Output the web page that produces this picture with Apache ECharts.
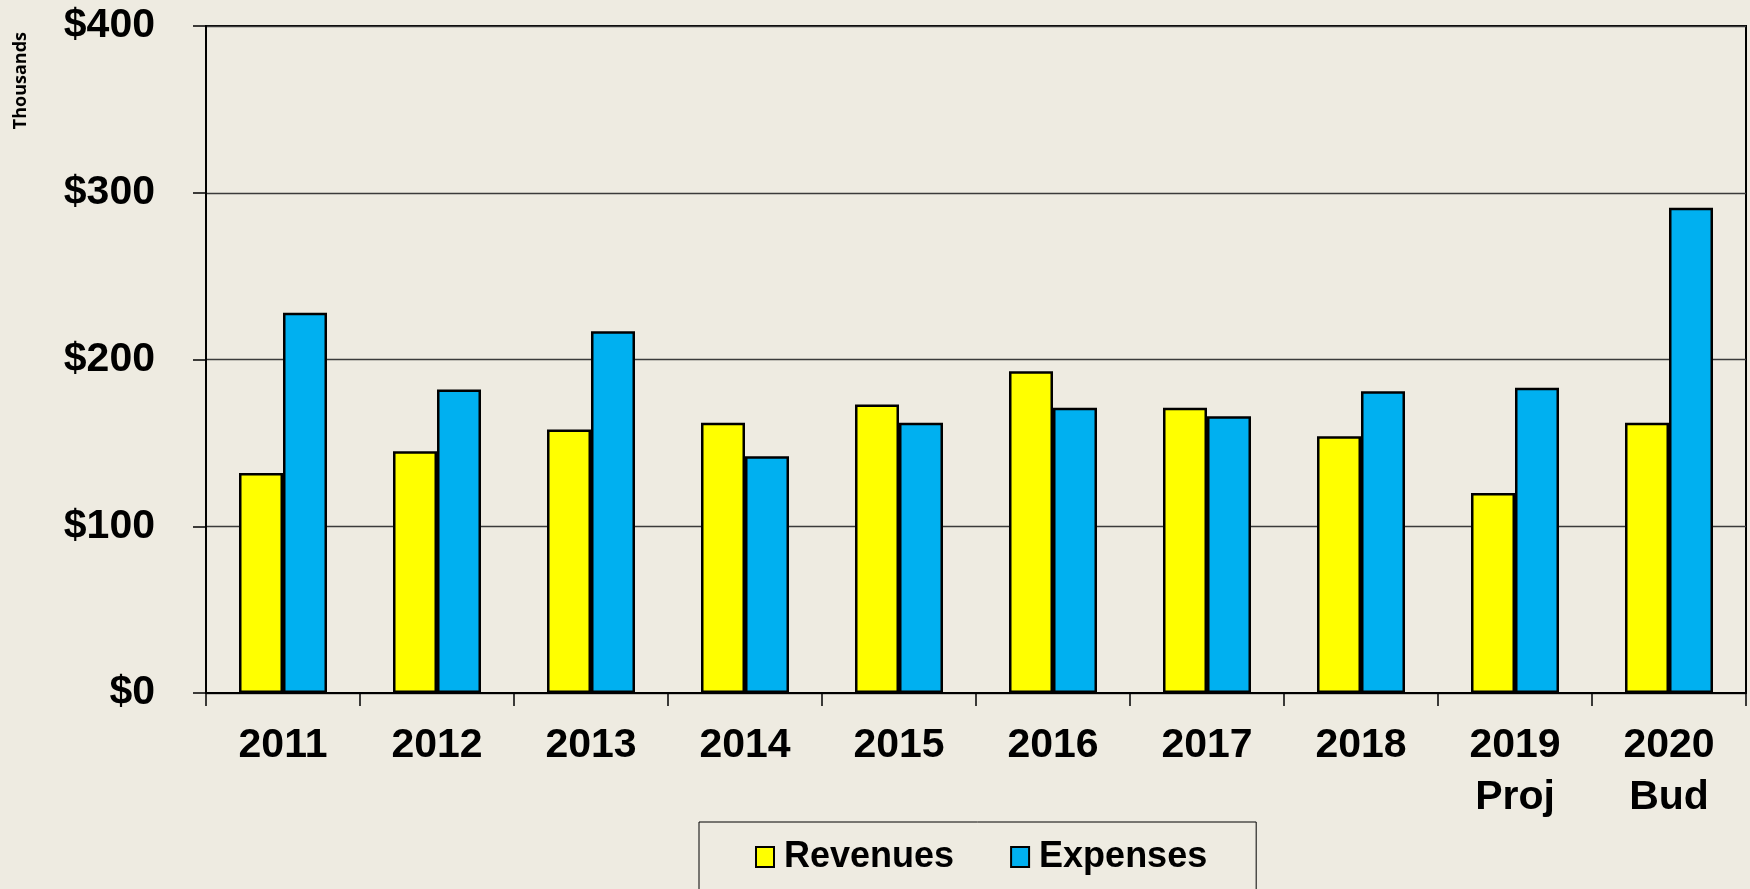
<!DOCTYPE html>
<html>
<head>
	<meta charset="utf-8">
	<title>Revenues vs Expenses</title>
	<script src="https://cdn.jsdelivr.net/npm/echarts@6/dist/echarts.min.js"></script>
	<style>
		* { margin: 0; padding: 0; box-sizing: border-box; }
		body { background-color: #EEEBE1; overflow: hidden; }
		#chart { width: 1750px; height: 889px; }
	</style>
</head>
<body>
<div id="chart"></div>
<script>
	// values in thousands of dollars
	var years = ['2011', '2012', '2013', '2014', '2015', '2016', '2017', '2018', '2019\nProj', '2020\nBud'];
	var revenues = [132, 145, 158, 162, 173, 193, 171, 154, 120, 162];
	var expenses = [228, 182, 217, 142, 162, 171, 166, 181, 183, 291];
	var yTicks = [0, 100, 200, 300, 400];
	var seriesNames = ['Revenues', 'Expenses'];
	var seriesColors = ['#FFFF00', '#00B0F0'];

	var chart = echarts.init(document.getElementById('chart'));

	var boldFont = "'Liberation Sans', Arial, sans-serif";

	chart.setOption({
		backgroundColor: '#EEEBE1',
		animation: false,
		grid: {
			left: 206, right: 4, top: 26, bottom: 196,
			show: true,
			borderColor: '#000',
			borderWidth: 2,
			backgroundColor: 'transparent'
		},
		legend: {
			left: 699,
			top: 822,
			// big bottom padding pushes the frame past the page edge, as in the original
			padding: [17, 49, 60, 56],
			borderColor: '#000',
			borderWidth: 1,
			itemWidth: 18,
			itemHeight: 20,
			itemGap: 56,
			icon: 'rect',
			itemStyle: { borderWidth: 2 },
			textStyle: {
				fontFamily: boldFont,
				fontWeight: 'bold',
				fontSize: 36,
				color: '#000',
				padding: [0, 0, 0, 5]
			},
			data: seriesNames
		},
		graphic: [{
			type: 'text',
			left: 12,
			top: 32,
			rotation: Math.PI / 2,
			style: {
				text: 'Thousands',
				fontFamily: "'Open Sans', 'Noto Sans', sans-serif",
				fontWeight: 'bold',
				fontSize: 18,
				fill: '#000'
			}
		}],
		xAxis: {
			type: 'category',
			data: years,
			axisLine: { lineStyle: { color: '#000', width: 2 } },
			axisTick: { show: true, inside: false, length: 13, lineStyle: { color: '#000', width: 1.5 } },
			axisLabel: {
				margin: 27,
				interval: 0,
				fontFamily: boldFont,
				fontWeight: 'bold',
				fontSize: 41,
				lineHeight: 52,
				color: '#000'
			}
		},
		yAxis: {
			type: 'value',
			min: yTicks[0],
			max: yTicks[yTicks.length - 1],
			interval: 100,
			axisLine: { show: true, lineStyle: { color: '#000', width: 2 } },
			axisTick: { show: true, length: 13, lineStyle: { color: '#000', width: 1.5 } },
			splitLine: { lineStyle: { color: '#3a3a3a', width: 1.3 } },
			axisLabel: {
				margin: 51,
				formatter: function (v) { return '$' + v; },
				fontFamily: boldFont,
				fontWeight: 'bold',
				fontSize: 41,
				color: '#000'
			}
		},
		series: [{
			name: seriesNames[0],
			type: 'bar',
			data: revenues,
			barWidth: 44,
			barGap: '0%',
			itemStyle: { color: seriesColors[0], borderColor: '#000', borderWidth: 2.5 }
		}, {
			name: seriesNames[1],
			type: 'bar',
			data: expenses,
			barWidth: 44,
			barGap: '0%',
			itemStyle: { color: seriesColors[1], borderColor: '#000', borderWidth: 2.5 }
		}]
	});
</script>
</body>
</html>
